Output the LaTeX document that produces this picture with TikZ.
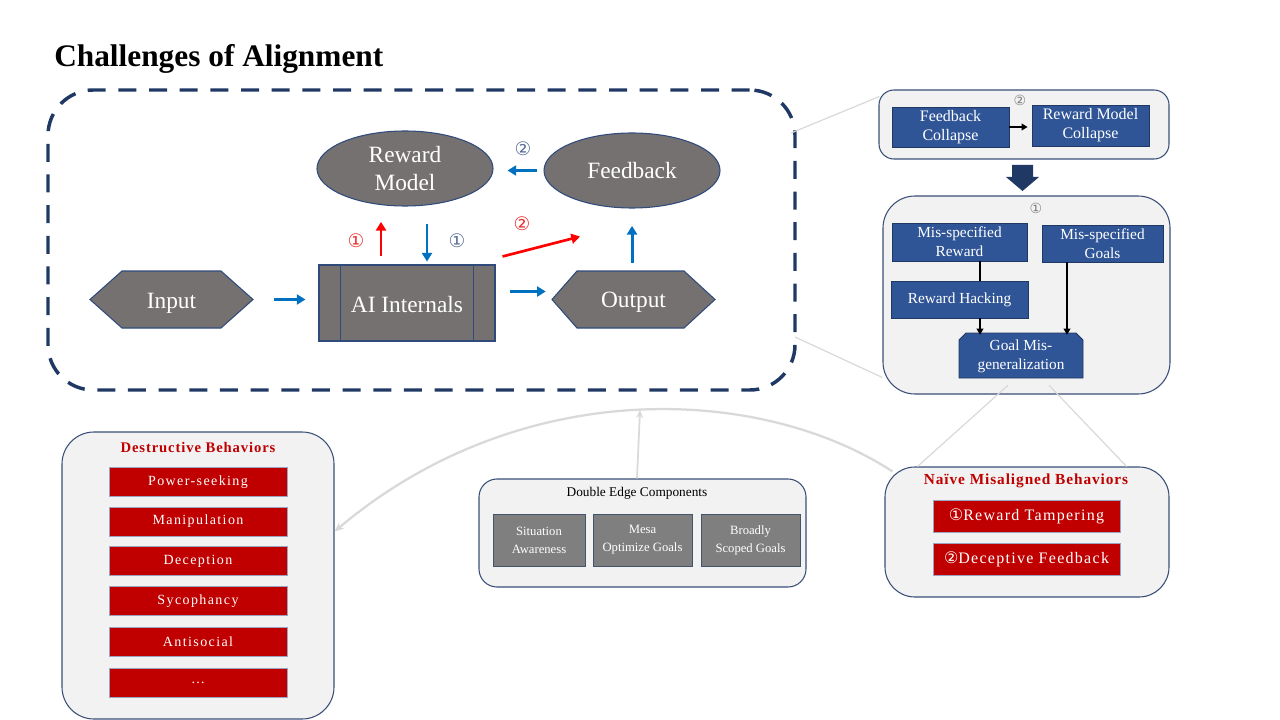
\documentclass[tikz,border=0pt]{standalone}
\usepackage{fontspec}
\setmainfont{Liberation Serif}
\newfontfamily\symf{DejaVu Sans}
\usetikzlibrary{arrows.meta,calc,shapes.geometric}
\definecolor{nodegray}{HTML}{767171}
\definecolor{nodeedge}{HTML}{2F4B7C}
\definecolor{arrblue}{HTML}{0070C0}
\definecolor{arrred}{HTML}{FF0000}
\definecolor{navy}{HTML}{1F3864}
\definecolor{contfill}{HTML}{F2F2F2}
\definecolor{contedge}{HTML}{3A4F78}
\definecolor{boxblue}{HTML}{2F5597}
\definecolor{boxedge}{HTML}{1F3864}
\definecolor{boxred}{HTML}{C00000}
\definecolor{rededge}{HTML}{9AA3C0}
\definecolor{boxgray}{HTML}{7F7F7F}
\definecolor{grayedge}{HTML}{44546A}
\definecolor{lgray}{HTML}{D9D9D9}
\definecolor{numblue}{HTML}{5B6F96}
\definecolor{numred}{HTML}{F03030}
\definecolor{titlered}{HTML}{C00000}
\tikzset{
  gnode/.style={fill=nodegray, draw=nodeedge, line width=0.8pt, text=white, align=center, inner sep=0pt, font=\fontsize{17.5}{21}\selectfont},
  gtext/.style={text=white, align=center, inner sep=0pt, font=\fontsize{17.5}{21}\selectfont},
  barrow/.style={draw=arrblue, line width=2.2pt, -{Triangle[length=6.5pt,width=7.5pt]}},
  rarrow/.style={draw=arrred, line width=2pt, -{Triangle[length=6.5pt,width=7.5pt]}},
  cont/.style={fill=contfill, draw=contedge, line width=0.8pt, inner sep=0pt},
  bluebox/.style={fill=boxblue, draw=boxedge, line width=0.6pt, text=white, align=center, inner sep=0pt, font=\fontsize{11.5}{14.2}\selectfont},
  redbox/.style={fill=boxred, draw=rededge, line width=0.5pt, text=white, align=center, inner sep=0pt, minimum width=133.5pt, minimum height=21.75pt, font=\fontsize{10.5}{12}\selectfont\addfontfeature{LetterSpace=10}},
  graybox/.style={fill=boxgray, draw=grayedge, line width=0.6pt, text=white, align=center, inner sep=0pt, minimum width=74.25pt, minimum height=39pt, font=\fontsize{9.5}{13.5}\selectfont},
  gline/.style={draw=lgray, line width=0.9pt},
  karrow/.style={draw=black, line width=1pt, -{Triangle[length=4.5pt,width=5pt]}},
  cnum/.style={inner sep=0pt, font=\symf\fontsize{14}{14}\selectfont},
}
\begin{document}
\begin{tikzpicture}[x=0.75pt, y=-0.75pt]
\useasboundingbox (0,0) rectangle (1280,720);
\fill[white] (0,0) rectangle (1280,720);

% title
\node[anchor=base west, inner sep=0pt, font=\bfseries\fontsize{23.5}{27}\selectfont] (title) at (54,67) {Challenges of Alignment};

% dashed container
\node[draw=navy, line width=2.6pt, dash pattern=on 13.5pt off 9.5pt, rounded corners=34pt, minimum width=560.25pt, minimum height=225pt, inner sep=0pt] (dbox) at (421.5,240) {};

% main nodes
\node[gnode, ellipse, minimum width=132pt, minimum height=56.25pt] (rm) at (405,168.5) {Reward\\Model};
\node[gnode, ellipse, minimum width=132pt, minimum height=56.25pt] (fb) at (632,170.5) {Feedback};
\node[gnode, minimum width=132pt, minimum height=57pt] (ai) at (407,303) {};
\node[gtext] (ait) at (407,305) {AI Internals};
\draw[nodeedge, line width=0.8pt] ([xshift=16.5pt]ai.north west) -- ([xshift=16.5pt]ai.south west);
\draw[nodeedge, line width=0.8pt] ([xshift=-16.5pt]ai.north east) -- ([xshift=-16.5pt]ai.south east);

\filldraw[fill=nodegray, draw=nodeedge, line width=0.8pt] (90,299.5) -- (122,271) -- (221,271) -- (253,299.5) -- (221,328) -- (122,328) -- cycle;
\node[gtext, minimum width=122.25pt, minimum height=42.75pt] (inp) at (171.5,299.5) {};
\node[gtext] (inpt) at (171.5,303) {Input};
\filldraw[fill=nodegray, draw=nodeedge, line width=0.8pt] (552,299.5) -- (577,271) -- (684,271) -- (715,299.5) -- (684,328) -- (577,328) -- cycle;
\node[gtext, minimum width=122.25pt, minimum height=42.75pt] (out) at (633.5,299.5) {};
\node[gtext] (outt) at (633.5,302) {Output};

% helper x positions
\coordinate (xa) at (427,0);
\coordinate (xb) at (381,0);
\coordinate (xd) at (980,0);
\coordinate (xe) at (1067,0);

% arrows in main diagram
\draw[barrow, shorten <=15.75pt, shorten >=9.75pt] (inp.east) -- (inp.east -| ai.west);
\draw[barrow, shorten <=11pt, shorten >=4.5pt] ([yshift=8.6pt]ai.east) -- ([yshift=8.6pt]ai.east -| out.west);
\draw[barrow] ([shift={(-1.1pt,6pt)}]out.north) -- ([shift={(-1.1pt,-13pt)}]out.north |- fb.south);
\draw[barrow, shorten <=4.5pt, shorten >=10.5pt] (fb.west) -- (fb.west -| rm.east);
\draw[barrow, shorten <=13pt, shorten >=2.2pt] (rm.south -| xa) -- (ai.north -| xa);
\draw[rarrow, shorten <=6pt, shorten >=11.5pt] (ai.north -| xb) -- (rm.south -| xb);
\draw[rarrow] ([shift={(5.25pt,6pt)}]ai.north east) -- ([shift={(-39pt,-21pt)}]fb.south);

% circled numbers
\node[cnum, text=numred] (n1r) at (356,241) {①};
\node[cnum, text=numblue] (n1b) at (457,241) {①};
\node[cnum, text=numred] (n2r) at (522,224) {②};
\node[cnum, text=numblue] (n2b) at (523,149) {②};

% top right container
\node[cont, rounded corners=11.25pt, minimum width=217.5pt, minimum height=51.75pt] (trbox) at (1024,124.5) {};
\node[bluebox, font=\fontsize{12}{14.2}\selectfont, minimum width=87.75pt, minimum height=30pt] (fbc) at (950.5,127) {Feedback\\Collapse};
\node[bluebox, font=\fontsize{12}{14.2}\selectfont, minimum width=87.75pt, minimum height=30.75pt] (rmc) at (1090.5,125.5) {Reward Model\\Collapse};
\draw[karrow, shorten >=3pt] (fbc.east) -- (fbc.east -| rmc.west);
\node[cnum, text=boxgray, font=\symf\fontsize{10.5}{10.5}\selectfont] (n2t) at (1020,100) {②};

% block arrow
\fill[navy] (1012,165) -- (1033,165) -- (1033,177) -- (1039,177) -- (1022.5,191) -- (1006,177) -- (1012,177) -- cycle;

% middle container
\node[cont, rounded corners=24pt, minimum width=215.25pt, minimum height=148.5pt] (midbox) at (1026.5,295) {};
\node[cnum, text=boxgray, font=\symf\fontsize{10.5}{10.5}\selectfont] (n1t) at (1036,208) {①};
\node[bluebox, minimum width=101.25pt, minimum height=28.5pt] (msr) at (959.5,242) {Mis-specified\\Reward};
\node[bluebox, minimum width=90.75pt, minimum height=27.75pt] (msg) at (1102.5,243.5) {Mis-specified\\Goals};
\node[bluebox, minimum width=102.75pt, minimum height=27.75pt] (rh) at (959.5,299.5) {Reward Hacking};
\filldraw[fill=boxblue, draw=boxedge, line width=0.6pt] (959,378) -- (959,340) -- (966,333) -- (1076,333) -- (1083,340) -- (1083,378) -- cycle;
\node[text=white, align=center, inner sep=0pt, font=\fontsize{11.5}{14.2}\selectfont, minimum width=93pt, minimum height=33.75pt] (gm) at (1021,356.5) {Goal Mis-\\generalization};
\draw[black, line width=1pt] (msr.south -| xd) -- (rh.north -| xd);
\draw[karrow] (rh.south -| xd) -- ([yshift=-0.75pt]gm.north -| xd);
\draw[karrow] (msg.south -| xe) -- ([yshift=-0.75pt]gm.north -| xe);

% naive container
\node[cont, rounded corners=22.5pt, minimum width=213pt, minimum height=97.5pt] (nvbox) at (1027,532) {};
\node[inner sep=0pt, text=titlered, font=\bfseries\fontsize{11.5}{12}\selectfont\addfontfeature{LetterSpace=6}] (nvt) at (1026,481) {Naïve Misaligned Behaviors};
\node[redbox, minimum width=140.25pt, minimum height=24pt, font=\fontsize{12}{13}\selectfont\addfontfeature{LetterSpace=8}] (rt) at (1026.5,516) {{\symf ①}Reward Tampering};
\node[redbox, minimum width=140.25pt, minimum height=24pt, font=\fontsize{12}{13}\selectfont\addfontfeature{LetterSpace=8}] (df) at (1026.5,559) {{\symf ②}Deceptive Feedback};

% destructive container
\node[cont, rounded corners=24pt, minimum width=204pt, minimum height=215.25pt] (dsbox) at (198,575.5) {};
\node[inner sep=0pt, text=titlered, font=\bfseries\fontsize{11}{12}\selectfont\addfontfeature{LetterSpace=6}] (dst) at (198,447) {Destructive Behaviors};
\node[redbox] (d1) at (198,482) {Power-seeking};
\node[redbox] (d2) at (198,521.5) {Manipulation};
\node[redbox] (d3) at (198,561) {Deception};
\node[redbox] (d4) at (198,601) {Sycophancy};
\node[redbox] (d5) at (198,641.5) {Antisocial};
\node[redbox] (d6) at (198,682.5) {\dots};

% double edge container
\node[cont, rounded corners=13.5pt, minimum width=245.25pt, minimum height=81pt] (debox) at (642.5,533) {};
\node[inner sep=0pt, font=\fontsize{10}{12}\selectfont] (det) at (637,493) {Double Edge Components};
\node[graybox, minimum width=69pt] (sa) at (539,540) {Situation\\Awareness};
\node[graybox] (mo) at (642.5,540) {Mesa\\Optimize Goals};
\node[graybox] (bs) at (750.5,540) {Broadly\\Scoped Goals};

% light gray connectors
\coordinate (pdb1) at (791,133);
\coordinate (pdb2) at (795,337);
\draw[gline] (pdb1) -- ($(trbox.north west)+(1,7)$);
\draw[gline] (pdb2) -- ($(midbox.south west)+(0,-17)$);
\draw[gline] ($(gm.south)+(-13,6)$) -- ($(nvbox.north west)+(33,0)$);
\draw[gline] ($(gm.south)+(28,6)$) -- ($(nvbox.north east)+(-43,0)$);
\coordinate (cpk) at (640,410);
\draw[draw=lgray, line width=1.7pt, -{Stealth[length=7pt,width=6pt]}] ($(nvbox.north west)+(8,5)$) .. controls (760,385) and (520,375) .. ($(dsbox.east)+(0,-44)$);
\draw[draw=lgray, line width=1.3pt, -{Stealth[length=6pt,width=5pt]}] (debox.north -| det) -- (cpk);
\end{tikzpicture}
\end{document}
